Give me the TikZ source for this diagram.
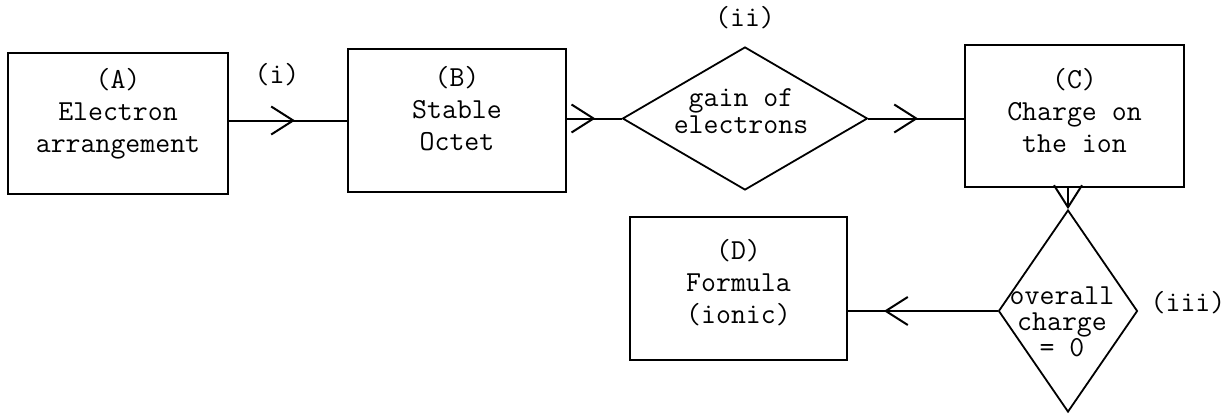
\documentclass[tikz,border=0pt]{standalone}
\usetikzlibrary{shapes.geometric,arrows.meta,decorations.markings}
\begin{document}
\begin{tikzpicture}[
    x=0.5pt, y=-0.5pt,
    every node/.style={font=\ttfamily\fontsize{14.5}{16}\selectfont},
    txt/.style={align=center, inner sep=0pt},
    box/.style={draw, line width=1pt, align=center, inner sep=0pt},
    decision/.style={draw, shape=diamond, line width=0.9pt, inner sep=0pt},
    barb/.style={line width=1pt, -{Straight Barb[length=11pt,width=14pt]}},
    flow/.style={line width=1pt, postaction={decorate, decoration={markings,
        mark=at position #1 with {\arrow{Straight Barb[length=11pt,width=14pt]}}}}}
]
\useasboundingbox (0,0) rectangle (1227,413);

% Boxes
\node[box, minimum width=110pt, minimum height=70.5pt, text depth=13pt]
    (elec) at (118,123.5) {(A)\\Electron\\arrangement};
\node[box, minimum width=109pt, minimum height=71.5pt, text depth=12pt]
    (octet) at (457,120.5) {(B)\\Stable\\Octet};
\node[box, minimum width=109.5pt, minimum height=71pt, text depth=6pt]
    (charge) at (1074.5,116) {(C)\\Charge on\\the ion};
\node[box, minimum width=108.5pt, minimum height=71.5pt, text depth=7.5pt]
    (formula) at (738.5,288.5) {(D)\\Formula\\(ionic)};

% Decisions
\node[decision, minimum width=122.5pt, minimum height=71.5pt] (gain) at (745,118.5) {};
\node[txt] (gaintxt) at (741,111) {gain of\\[-2.5pt]electrons};
\node[decision, minimum width=69.5pt, minimum height=101pt] (zero) at (1068,311) {};
\node[txt] (zerotxt) at (1062,322) {overall\\[-3pt]charge\\[-3pt]= 0};

% Labels
\node (lbli) at (277,75) {(i)};
\node (lblii) at (745,18) {(ii)};
\node (lbliii) at (1188,303) {(iii)};

% Arrows
\draw[flow=0.56] (octet.west -| elec.east) -- (octet.west);
\draw[flow=0.52] (gain.west -| octet.east) -- (gain.west);
\draw[flow=0.52] (gain.east) -- (gain.east -| charge.west);
\draw[barb] (charge.south -| zero.north) -- (zero.north);
\draw[flow=0.76] (zero.west) -- (zero.west -| formula.east);

\end{tikzpicture}
\end{document}
